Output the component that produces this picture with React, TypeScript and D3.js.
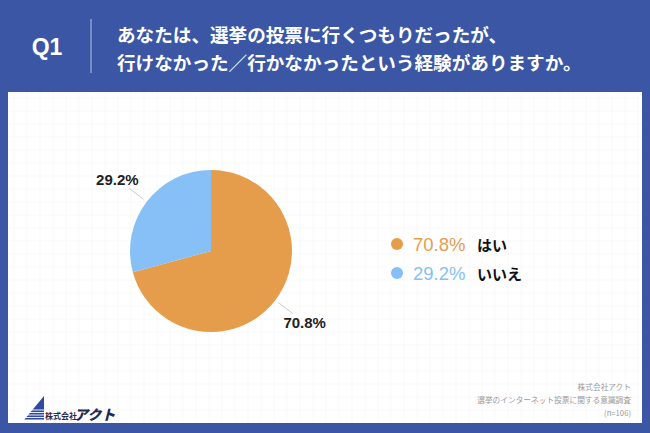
import React from "react";
import * as d3 from "d3";

const categories = ["はい", "いいえ"];
const values = [70.8, 29.2];
const colors = ["#e59d4c", "#86c0f6"];
const titleLines = [
  "あなたは、選挙の投票に行くつもりだったが、",
  "行けなかった／行かなかったという経験がありますか。",
];
const footerLines = ["株式会社アクト", "選挙のインターネット投票に関する意識調査", "(n=106)"];

const W = 650;
const H = 433;
const BLUE = "#3b56a4";
const JP = "'Noto Sans CJK JP', 'Noto Sans', sans-serif";
const NUM = "'Helvetica Neue', 'Liberation Sans', Arial, sans-serif";

export default function App() {
  const cx = 211;
  const cy = 251;
  const r = 81;
  const pie = d3.pie<number>().sort(null).value((d) => d)(values);
  const arc = d3.arc<d3.PieArcDatum<number>>().innerRadius(0).outerRadius(r);
  const pt = (a: number, rr: number) => [Math.sin(a) * rr, -Math.cos(a) * rr];

  const panel = { x: 8, y: 92, w: 634, h: 331 };
  const gx = d3.range(panel.x + 6, panel.x + panel.w, 13);
  const gy = d3.range(panel.y + 6, panel.y + panel.h, 13);

  return (
    <svg width={W} height={H} style={{ position: "absolute", left: 0, top: 0 }}>
      <rect x={0} y={0} width={W} height={H} fill={BLUE} />
      <rect x={panel.x} y={panel.y} width={panel.w} height={panel.h} fill="#ffffff" />
      <g stroke="#f8f8f8" strokeWidth={0.8}>
        {gx.map((x) => (
          <line key={"gx" + x} x1={x} x2={x} y1={panel.y} y2={panel.y + panel.h} />
        ))}
        {gy.map((y) => (
          <line key={"gy" + y} x1={panel.x} x2={panel.x + panel.w} y1={y} y2={y} />
        ))}
      </g>

      {/* header */}
      <text x={47} y={47} fill="#fff" fontFamily={NUM} fontWeight={600} fontSize={23} textAnchor="middle" dominantBaseline="central">
        Q1
      </text>
      <line x1={91} x2={91} y1={19} y2={73} stroke="#8fa0cf" strokeWidth={1.5} />
      {titleLines.map((t, i) => (
        <text key={i} x={117} y={33 + i * 28} fill="#fff" fontFamily={JP} fontWeight={700} fontSize={18.6} dominantBaseline="central">
          {t}
        </text>
      ))}

      {/* pie */}
      <g transform={`translate(${cx},${cy})`}>
        {pie.map((p, i) => (
          <path key={i} d={arc(p) || ""} fill={colors[i]} />
        ))}
        {pie.map((p, i) => {
          const a = (p.startAngle + p.endAngle) / 2;
          const [x1, y1] = pt(a, 85);
          const [x2, y2] = pt(a, 103);
          const [lx, ly] = pt(a, 118);
          return (
            <g key={"l" + i}>
              <line x1={x1} y1={y1} x2={x2} y2={y2} stroke="#cccccc" strokeWidth={1} />
              <text x={lx} y={ly} textAnchor="middle" dominantBaseline="central" fontFamily={NUM} fontWeight={700} fontSize={15} fill="#222">
                {values[i].toFixed(1)}%
              </text>
            </g>
          );
        })}
      </g>

      {/* legend */}
      {categories.map((c, i) => (
        <g key={c} transform={`translate(397,${244 + i * 29})`}>
          <circle cx={0} cy={0} r={6} fill={colors[i]} />
          <text x={16} y={0} dominantBaseline="central" fontFamily={NUM} fontWeight={500} fontSize={18.5} fill={colors[i]}>
            {values[i].toFixed(1)}%
          </text>
          <text x={80} y={0} dominantBaseline="central" fontFamily={JP} fontWeight={700} fontSize={15} fill="#111">
            {c}
          </text>
        </g>
      ))}

      {/* footer */}
      {footerLines.map((t, i) => (
        <text key={i} x={631} y={386 + i * 13} textAnchor="end" dominantBaseline="central" fontFamily={JP} fontSize={7.7} fill="#9a9a9a">
          {t}
        </text>
      ))}

      {/* logo */}
      <g>
        <path d="M44,396 L24,420 L44,420 Z" fill="#2f4aa0" />
        {[0, 1, 2, 3, 4].map((k) => (
          <line key={k} x1={20 + k} x2={46} y1={410 + k * 2.5} y2={410 + k * 2.5} stroke="#ffffff" strokeWidth={0.9} />
        ))}
        <text x={45} y={415} dominantBaseline="central" fontFamily={JP} fontSize={8} fontWeight={700} fill="#1e2b55">
          株式会社
        </text>
        <text x={74} y={414} dominantBaseline="central" fontFamily={JP} fontSize={14} fontWeight={900} fontStyle="italic" fill="#1e2b55">
          アクト
        </text>
      </g>
    </svg>
  );
}
